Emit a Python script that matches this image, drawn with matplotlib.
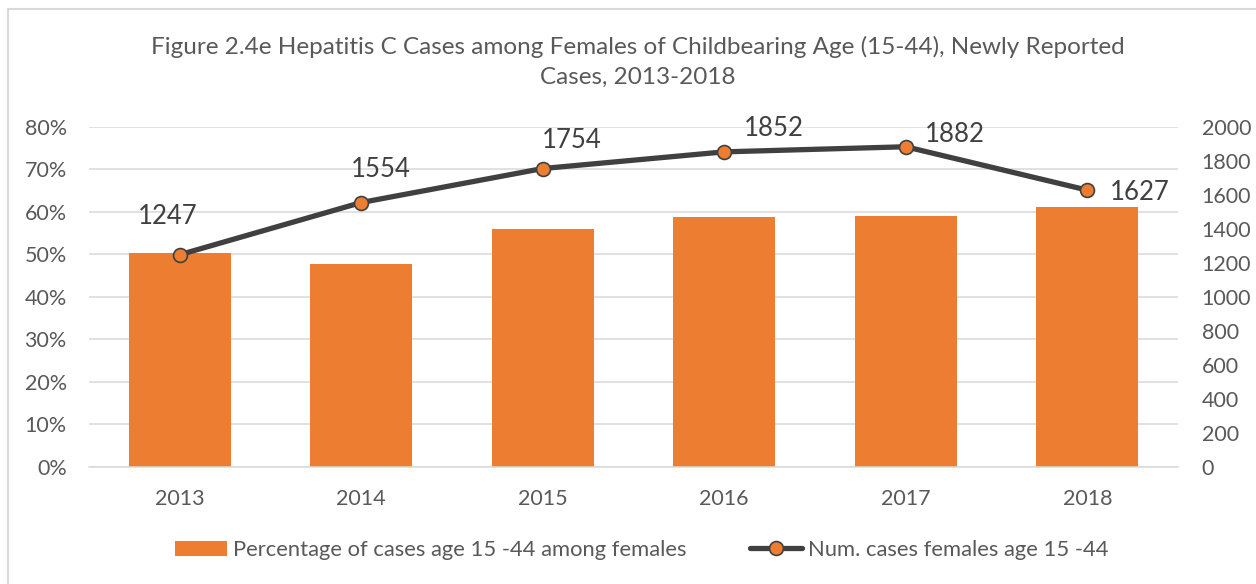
import matplotlib
matplotlib.use("Agg")
import matplotlib.pyplot as plt
from matplotlib.patches import Rectangle, Patch
from matplotlib.lines import Line2D
from matplotlib.ticker import FuncFormatter, MultipleLocator

plt.rcParams['font.family'] = ['Lato', 'DejaVu Sans']

years = ["2013", "2014", "2015", "2016", "2017", "2018"]
pct_females = [0.504, 0.477, 0.559, 0.587, 0.590, 0.612]
num_cases = [1247, 1554, 1754, 1852, 1882, 1627]

bar_label = "Percentage of cases age 15 -44 among females"
line_label = "Num. cases females age 15 -44"
title = ("Figure 2.4e Hepatitis C Cases among Females of Childbearing Age (15-44), Newly Reported\n"
         "Cases, 2013-2018")

W, H = 1256, 584
TXT = "#595959"
ORANGE = "#ED7D31"
DARK = "#404040"
GRID = "#D9D9D9"

fig = plt.figure(figsize=(W / 100, H / 100), dpi=100)
fig.patch.set_facecolor("white")

# chart border (left/top visible)
fig.patches.append(Rectangle((7.5 / W, -0.2), 2.0, (H - 8.5) / H + 0.2,
                             transform=fig.transFigure, fill=False,
                             edgecolor=GRID, linewidth=1.5, clip_on=False))

x0, x1 = 89, 1178
y0, y1 = 466.7, 126.7
ax = fig.add_axes([x0 / W, (H - y0) / H, (x1 - x0) / W, (y0 - y1) / H])
ax2 = ax.twinx()

xs = list(range(len(years)))
ax.bar(xs, pct_females, width=0.56, color=ORANGE, zorder=2)
ax.set_xlim(-0.5, len(years) - 0.5)
ax.set_ylim(0, 0.8)
ax.yaxis.set_major_locator(MultipleLocator(0.1))
ax.yaxis.set_major_formatter(FuncFormatter(lambda v, p: f"{v*100:.0f}%"))
ax.set_xticks(xs)
ax.set_xticklabels(years)
ax.grid(axis="y", color=GRID, linewidth=1.1, zorder=0)
ax.set_axisbelow(True)
for s in ax.spines.values():
    s.set_visible(False)
ax.spines["bottom"].set_visible(True)
ax.spines["bottom"].set_color(GRID)
ax.spines["bottom"].set_linewidth(1.1)
ax.tick_params(axis="both", length=0, colors=TXT, labelsize=15.5)
ax.tick_params(axis="y", pad=16)
ax.tick_params(axis="x", pad=16)

ax2.plot(xs, num_cases, color=DARK, linewidth=3.8, marker="o", markersize=10,
         markerfacecolor=ORANGE, markeredgecolor=DARK, markeredgewidth=1.2,
         zorder=3, solid_capstyle="round")
ax2.set_ylim(0, 2000)
ax2.yaxis.set_major_locator(MultipleLocator(200))
for s in ax2.spines.values():
    s.set_visible(False)
ax2.tick_params(axis="y", length=0, colors=TXT, labelsize=15.5, pad=17)

offsets = [(-12.5, 38), (20, 33), (29, 28), (50, 23), (49, 12), (52, -2)]
for xi, v, (dx, dy) in zip(xs, num_cases, offsets):
    ax2.annotate(str(v), (xi, v), xytext=(dx, dy), textcoords="offset pixels",
                 ha="center", va="center", fontsize=18.5, color="#404040")

fig.text(637.5 / W, 1 - 62 / H, title, ha="center", va="center",
         fontsize=17.5, color=TXT, linespacing=1.55)

handles = [Patch(facecolor=ORANGE, edgecolor="none"),
           Line2D([0], [0], color=DARK, linewidth=3.8, marker="o", markersize=10,
                  markerfacecolor=ORANGE, markeredgecolor=DARK, markeredgewidth=1.2,
                  solid_capstyle="round")]
fig.legend(handles, [bar_label, line_label], loc="center", ncol=2,
           bbox_to_anchor=(641.5 / W, 1 - 550 / H), frameon=False,
           fontsize=15.8, labelcolor=TXT, handlelength=2.4, handleheight=0.7,
           handletextpad=0.25, columnspacing=2.9)

fig.savefig("out.png", dpi=100)
